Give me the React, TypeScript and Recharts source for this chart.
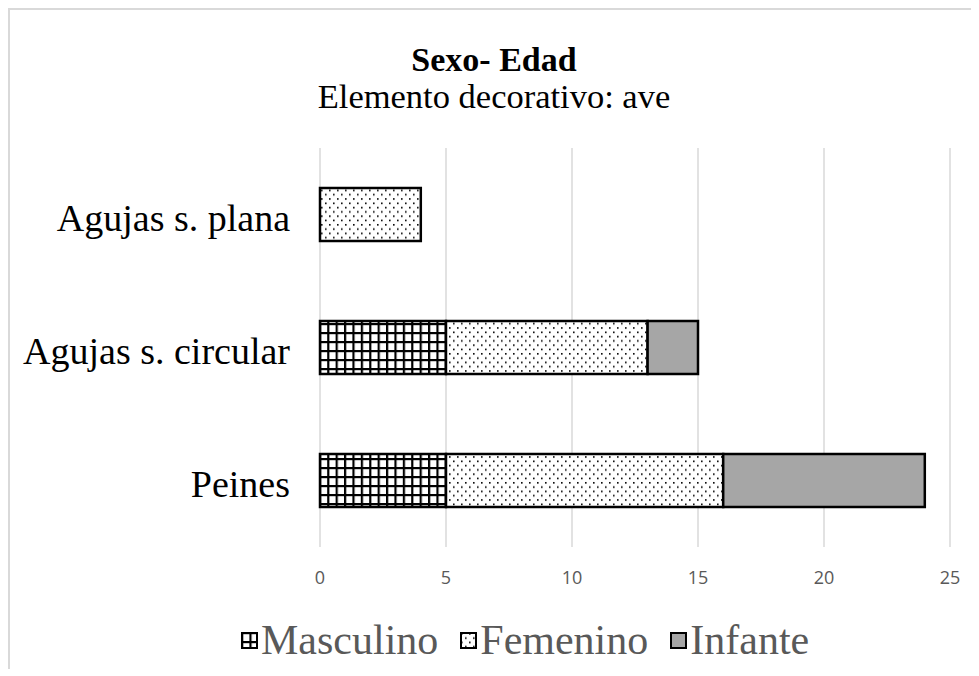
import { BarChart, Bar, XAxis, YAxis, CartesianGrid } from "recharts";

const categories = ["Agujas s. plana", "Agujas s. circular", "Peines"];
const masculino = [0, 5, 5];
const femenino = [4, 8, 11];
const infante = [0, 2, 8];
const xTicks = [0, 5, 10, 15, 20, 25];

const data = categories.map((name, i) => ({
  name,
  Masculino: masculino[i],
  Femenino: femenino[i],
  Infante: infante[i],
}));

const serif = '"Liberation Serif", "Times New Roman", serif';

const Patterns = () => (
  <defs>
    <pattern id="grid" patternUnits="userSpaceOnUse" width="8.4" height="9">
      <rect width="8.4" height="9" fill="#fff" />
      <rect x="0" y="0" width="2.2" height="9" fill="#000" />
      <rect x="0" y="0" width="8.4" height="2.2" fill="#000" />
    </pattern>
    <pattern id="dots" patternUnits="userSpaceOnUse" width="8" height="8.6">
      <rect width="8" height="8.6" fill="#fff" />
      <rect x="1" y="1" width="1.6" height="1.6" fill="#000" />
      <rect x="5" y="5.3" width="1.6" height="1.6" fill="#000" />
    </pattern>
  </defs>
);

const legendItems = [
  { label: "Masculino", fill: "url(#grid)" },
  { label: "Femenino", fill: "url(#dots)" },
  { label: "Infante", fill: "#a6a6a6" },
];

const Legend = () => (
  <div
    style={{
      position: "absolute",
      left: 231,
      top: 606,
      display: "flex",
      alignItems: "center",
      fontFamily: serif,
      fontSize: 42,
      color: "#595959",
      whiteSpace: "nowrap",
    }}
  >
    {legendItems.map((it) => (
      <div key={it.label} style={{ display: "flex", alignItems: "center", marginRight: 22 }}>
        <svg width="17" height="17" style={{ marginRight: 3 }}>
          <Patterns />
          <rect x="1" y="1" width="15" height="15" fill={it.fill} stroke="#000" strokeWidth="2" />
        </svg>
        <span>{it.label}</span>
      </div>
    ))}
  </div>
);

export default function App() {
  return (
    <div
      style={{
        position: "relative",
        width: 963,
        height: 659,
        borderLeft: "2px solid #d9d9d9",
        borderTop: "2px solid #d9d9d9",
        background: "#fff",
        overflow: "hidden",
      }}
    >
      <div
        style={{
          position: "absolute",
          left: 0,
          width: 968,
          top: 32,
          textAlign: "center",
          fontFamily: serif,
          color: "#000",
          lineHeight: "36px",
        }}
      >
        <div style={{ fontSize: 34, fontWeight: "bold" }}>Sexo- Edad</div>
        <div style={{ fontSize: 34.5 }}>Elemento decorativo: ave</div>
      </div>
      <div style={{ position: "absolute", left: -2, top: -2 }}>
        <BarChart
          width={971}
          height={668}
          data={data}
          layout="vertical"
          margin={{ top: 140, right: 29, bottom: 89, left: 0 }}
        >
          <Patterns />
          <CartesianGrid horizontal={false} stroke="#d9d9d9" strokeWidth={1.5} />
          <XAxis
            type="number"
            domain={[0, 25]}
            ticks={xTicks}
            axisLine={false}
            tickLine={false}
            tickSize={0}
            tickMargin={24}
            height={40}
            tick={{ fill: "#595959", fontSize: 18, fontFamily: '"Open Sans", sans-serif' }}
          />
          <YAxis
            type="category"
            dataKey="name"
            width={312}
            axisLine={false}
            tickLine={false}
            tickSize={0}
            tickMargin={30}
            tick={{ fill: "#000", fontSize: 38, fontFamily: serif, dy: 3 }}
          />
          <Bar dataKey="Masculino" stackId="a" fill="url(#grid)" stroke="#000" strokeWidth={2.5} barSize={53} isAnimationActive={false} />
          <Bar dataKey="Femenino" stackId="a" fill="url(#dots)" stroke="#000" strokeWidth={2.5} barSize={53} isAnimationActive={false} />
          <Bar dataKey="Infante" stackId="a" fill="#a6a6a6" stroke="#000" strokeWidth={2.5} barSize={53} isAnimationActive={false} />
        </BarChart>
      </div>
      <Legend />
    </div>
  );
}
